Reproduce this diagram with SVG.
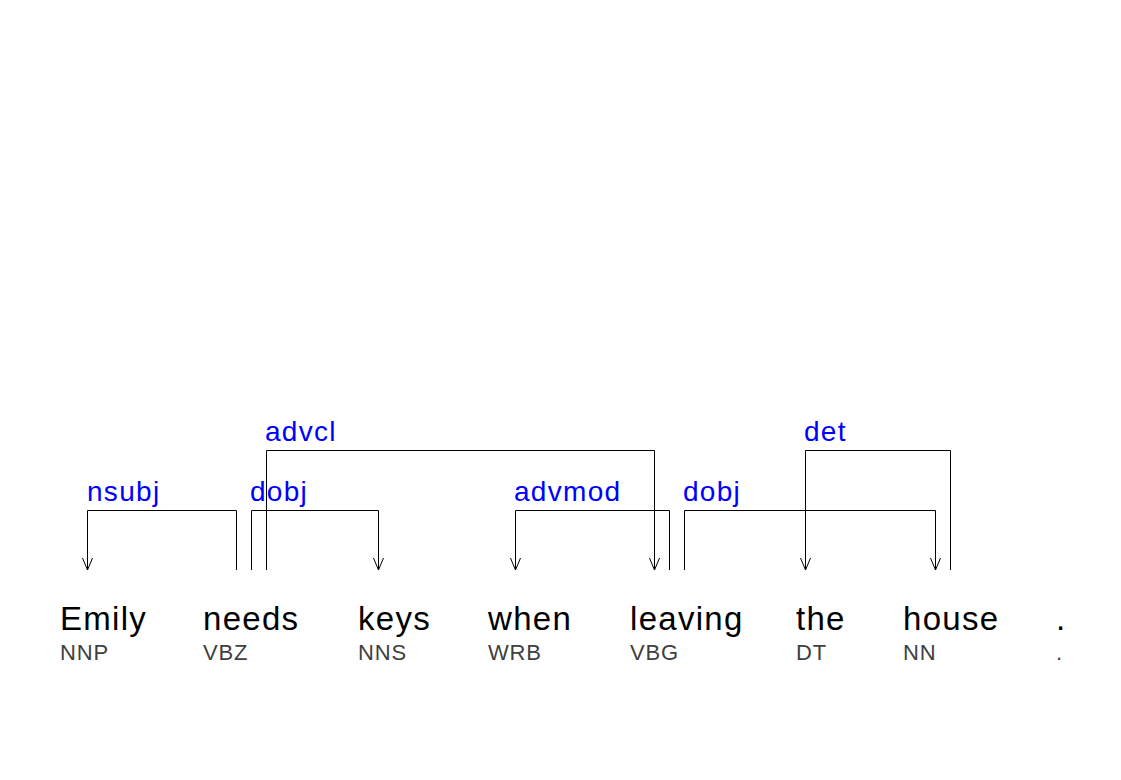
<svg xmlns="http://www.w3.org/2000/svg" width="1121" height="780" viewBox="0 0 1121 780">
<style>
.w{font-family:"Liberation Sans",Arial,sans-serif;font-size:33px;fill:#000;letter-spacing:1.3px}
.t{font-family:"Liberation Sans",Arial,sans-serif;font-size:22px;fill:#404040;letter-spacing:0.8px}
.l{font-family:"Liberation Sans",Arial,sans-serif;font-size:28px;fill:#0000ff;letter-spacing:1.3px}
.e{fill:none;stroke:#000;stroke-width:1}
</style>
<defs>
<marker id="ah" markerWidth="12" markerHeight="14" refX="6" refY="13" orient="0" markerUnits="userSpaceOnUse">
<path d="M1,1 L6,13 L11,1" fill="none" stroke="#000" stroke-width="1"/>
</marker>
</defs>
<rect width="1121" height="780" fill="#fff"/>
<g id="connectors">
<g id="e-nsubj"><path class="e" d="M236.5,570 V510.5 H87.5 V570" marker-end="url(#ah)"/><text class="l" x="87" y="501">nsubj</text></g>
<g id="e-dobj1"><path class="e" d="M251.5,570 V510.5 H378.5 V570" marker-end="url(#ah)"/><text class="l" x="250" y="501">dobj</text></g>
<g id="e-advcl"><path class="e" d="M266.5,570 V450.5 H654.5 V570" marker-end="url(#ah)"/><text class="l" x="265" y="441">advcl</text></g>
<g id="e-advmod"><path class="e" d="M669.5,570 V510.5 H515.5 V570" marker-end="url(#ah)"/><text class="l" x="514" y="501">advmod</text></g>
<g id="e-dobj2"><path class="e" d="M684.5,570 V510.5 H935.5 V570" marker-end="url(#ah)"/><text class="l" x="683" y="501">dobj</text></g>
<g id="e-det"><path class="e" d="M950.5,570 V450.5 H805.5 V570" marker-end="url(#ah)"/><text class="l" x="804" y="441">det</text></g>
</g>
<g id="n-Emily"><text class="w" x="60" y="630">Emily</text><text class="t" x="60" y="660">NNP</text></g>
<g id="n-needs"><text class="w" x="203" y="630">needs</text><text class="t" x="203" y="660">VBZ</text></g>
<g id="n-keys"><text class="w" x="358" y="630">keys</text><text class="t" x="358" y="660">NNS</text></g>
<g id="n-when"><text class="w" x="488" y="630">when</text><text class="t" x="488" y="660">WRB</text></g>
<g id="n-leaving"><text class="w" x="630" y="630">leaving</text><text class="t" x="630" y="660">VBG</text></g>
<g id="n-the"><text class="w" x="796" y="630">the</text><text class="t" x="796" y="660">DT</text></g>
<g id="n-house"><text class="w" x="903" y="630">house</text><text class="t" x="903" y="660">NN</text></g>
<g id="n-dot"><text class="w" x="1056" y="630">.</text><text class="t" x="1056" y="660">.</text></g>
</svg>
